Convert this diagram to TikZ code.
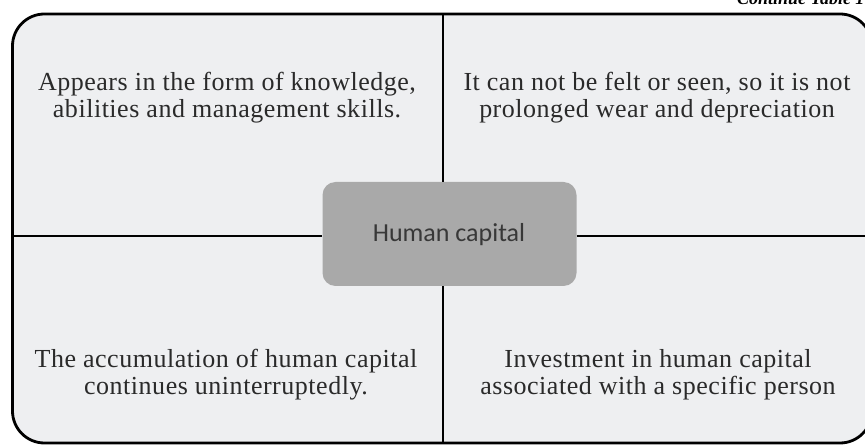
\documentclass[tikz,border=0pt]{standalone}
\usepackage{fontspec}
\setmainfont{Liberation Serif}
\newfontfamily\quadfont[LetterSpace=2]{Liberation Serif}
\newfontfamily\capfont{Carlito}
\begin{document}
\begin{tikzpicture}[x=1pt,y=-1pt,
  frame/.style={draw=black,line width=2.8pt,fill=boxbg,rounded corners=32pt},
  divider/.style={draw=black,line width=2pt},
  quad/.style={font=\quadfont\fontsize{26}{27}\selectfont,text=textgray,align=center,inner sep=0pt,anchor=base},
  centerbox/.style={fill=centergray,draw=none,rounded corners=13pt,minimum width=254pt,minimum height=104pt,inner sep=0pt}]
\definecolor{boxbg}{HTML}{EEEFF1}
\definecolor{centergray}{HTML}{A9A9A9}
\definecolor{textgray}{HTML}{2A2A2A}
\definecolor{captext}{HTML}{383838}
\useasboundingbox (0,0) rectangle (865,446);
\path[frame] (12.5,14) rectangle (872,443);
\node[font=\itshape\bfseries\fontsize{18}{20}\selectfont,anchor=base east] (hdr) at (868,5) {Continue Table 1};
\node[centerbox] (hc) at (449.5,234) {};
\node[font=\capfont\fontsize{26}{28}\selectfont,text=captext,anchor=base] (hct) at (449,242) {Human capital};
\coordinate (top) at (443,14);
\coordinate (bot) at (443,443);
\coordinate (lft) at (12.5,236);
\coordinate (rgt) at (872,236);
\draw[divider] (top) -- (top |- hc.north);
\draw[divider] (hc.south -| bot) -- (bot);
\draw[divider] (lft) -- (lft -| hc.west);
\draw[divider] (hc.east |- rgt) -- (rgt);
\node[quad] (tl) at (227,118) {Appears in the form of knowledge,\\abilities and management skills.};
\node[quad] (tr) at (657,118) {It can not be felt or seen, so it is not\\prolonged wear and depreciation};
\node[quad] (bl) at (226,394) {The accumulation of human capital\\continues uninterruptedly.};
\node[quad] (br) at (658,394) {Investment in human capital\\associated with a specific person};
\end{tikzpicture}
\end{document}
